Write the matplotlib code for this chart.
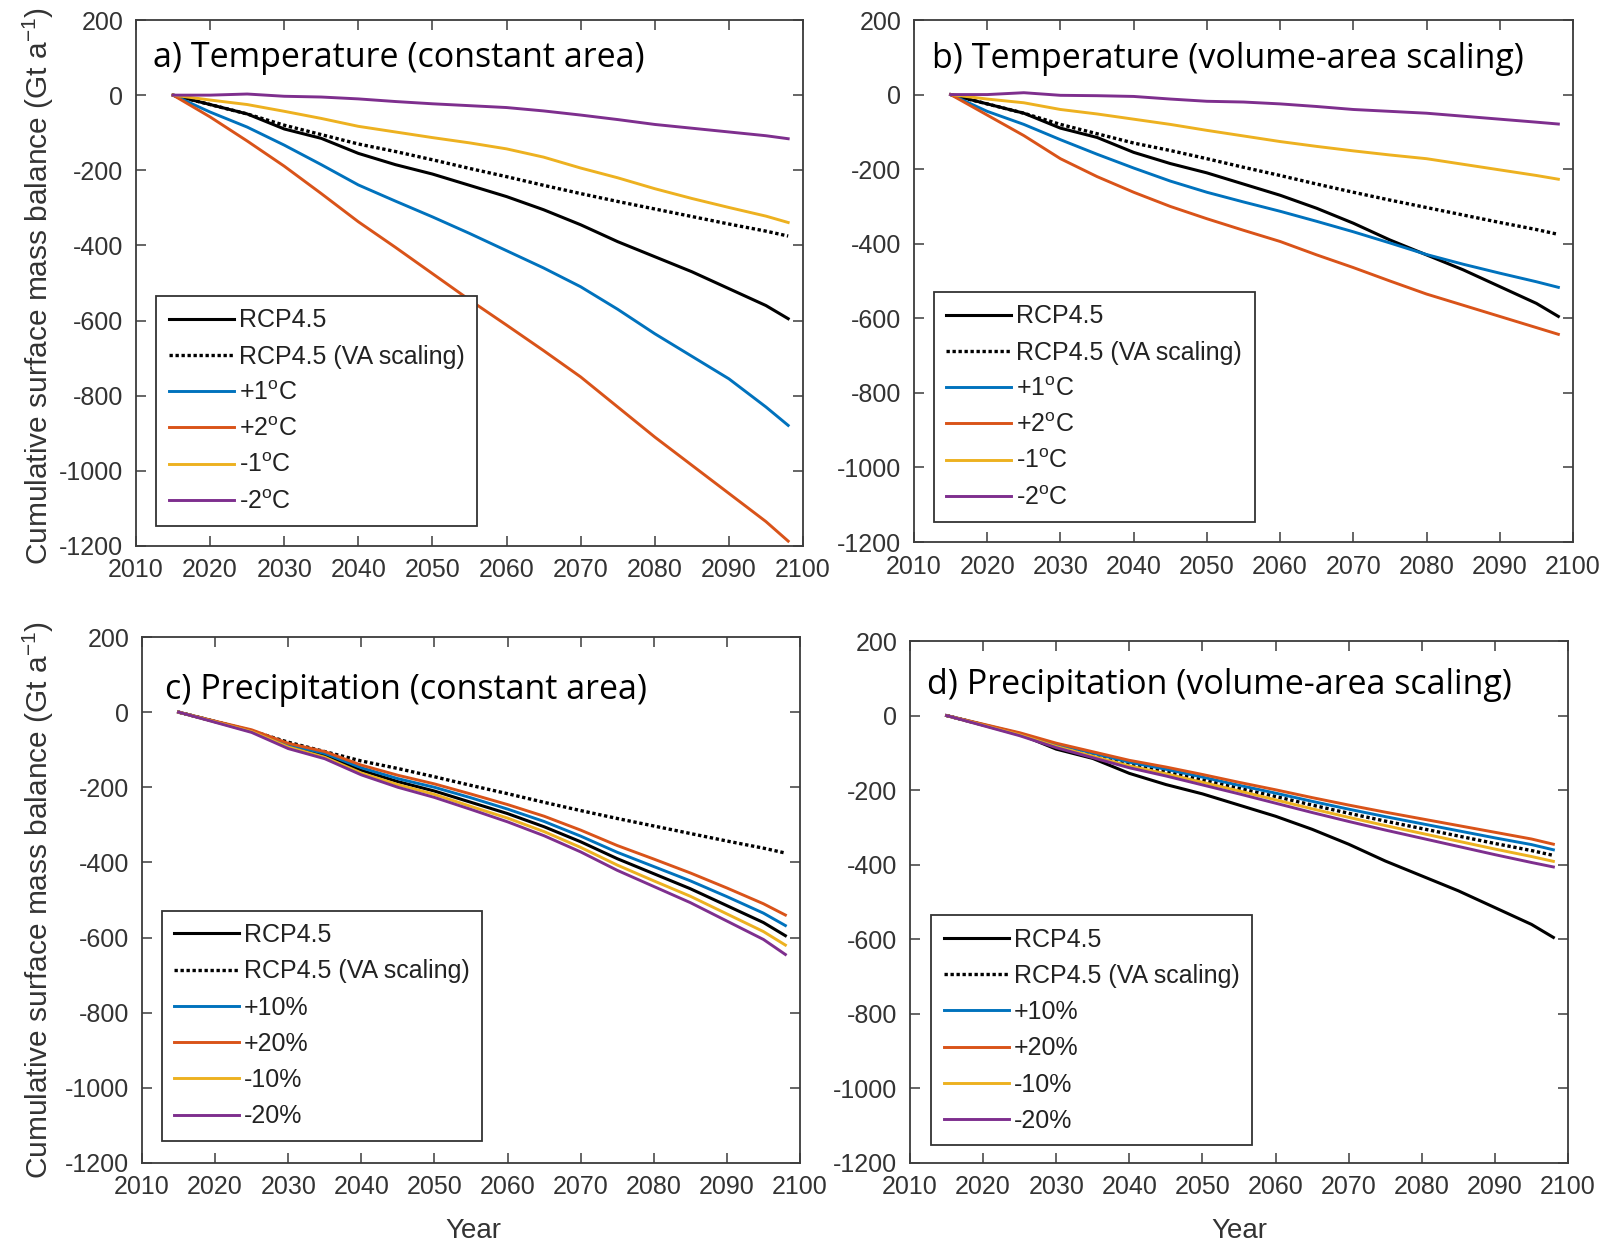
import matplotlib
matplotlib.use("Agg")
import matplotlib.pyplot as plt

W, H = 1603, 1244
DPI = 100

plt.rcParams["font.family"] = ["Liberation Sans", "DejaVu Sans"]
plt.rcParams["mathtext.fontset"] = "custom"
plt.rcParams["mathtext.rm"] = "Liberation Sans"
plt.rcParams["mathtext.it"] = "Liberation Sans:italic"
plt.rcParams["axes.unicode_minus"] = False

# ---- data (cumulative surface mass balance, Gt) ----
years = [2015, 2020, 2025, 2030, 2035, 2040, 2045, 2050, 2055, 2060,
         2065, 2070, 2075, 2080, 2085, 2090, 2095, 2098]

rcp45 = [0, -25, -50, -90, -115, -155, -185, -210, -240, -270,
         -305, -345, -390, -430, -470, -515, -560, -595]
rcp45_va = [0, -25, -50, -80, -105, -130, -150, -172, -195, -217,
            -240, -262, -283, -303, -323, -343, -362, -375]

# a) temperature, constant area
a_p1 = [0, -45, -85, -133, -185, -239, -282, -324, -368, -414,
        -460, -510, -570, -635, -695, -755, -830, -879]
a_p2 = [0, -58, -122, -189, -262, -337, -405, -475, -545, -612,
        -680, -750, -830, -910, -985, -1060, -1135, -1187]
a_m1 = [0, -13, -25, -43, -62, -83, -98, -113, -127, -143,
        -165, -194, -220, -249, -275, -299, -322, -339]
a_m2 = [0, 0, 3, -3, -5, -10, -17, -23, -28, -33,
        -42, -53, -65, -78, -88, -98, -108, -116]

# b) temperature, volume-area scaling
b_p1 = [0, -45, -80, -121, -160, -197, -232, -262, -288, -313,
        -340, -368, -398, -429, -455, -479, -502, -517]
b_p2 = [0, -55, -110, -172, -220, -262, -300, -333, -364, -394,
        -430, -464, -500, -535, -565, -595, -625, -643]
b_m1 = [0, -12, -22, -40, -52, -66, -80, -96, -111, -126,
        -139, -151, -162, -172, -187, -202, -217, -227]
b_m2 = [0, 0, 5, -2, -3, -5, -12, -18, -20, -25,
        -32, -40, -45, -50, -58, -66, -74, -79]

# c) precipitation, constant area
c_p10 = [0, -25, -49, -87, -110, -148, -177, -200, -228, -258,
         -291, -330, -373, -411, -449, -491, -535, -568]
c_p20 = [0, -24, -47, -83, -105, -141, -168, -191, -218, -246,
         -277, -314, -355, -391, -428, -468, -510, -540]
c_m10 = [0, -26, -52, -93, -120, -162, -193, -219, -251, -282,
         -318, -360, -407, -449, -490, -537, -584, -620]
c_m20 = [0, -27, -54, -97, -124, -167, -200, -227, -259, -292,
         -329, -372, -421, -464, -507, -556, -605, -645]

# d) precipitation, volume-area scaling
d_p10 = [0, -24, -48, -77, -101, -125, -144, -165, -187, -208,
         -230, -251, -271, -290, -309, -328, -346, -360]
d_p20 = [0, -23, -46, -74, -97, -120, -138, -158, -179, -199,
         -220, -240, -259, -277, -295, -313, -331, -345]
d_m10 = [0, -26, -52, -83, -109, -135, -156, -179, -202, -226,
         -250, -273, -295, -316, -337, -358, -378, -391]
d_m20 = [0, -27, -54, -86, -113, -140, -162, -186, -210, -235,
         -260, -284, -307, -329, -351, -373, -394, -406]

temp_labels = ["+1$^{\\rm o}$C", "+2$^{\\rm o}$C", "-1$^{\\rm o}$C", "-2$^{\\rm o}$C"]
prec_labels = ["+10%", "+20%", "-10%", "-20%"]

panel_titles = ["a) Temperature (constant area)",
                "b) Temperature (volume-area scaling)",
                "c) Precipitation (constant area)",
                "d) Precipitation (volume-area scaling)"]

xticks = list(range(2010, 2101, 10))
yticks = list(range(-1200, 201, 200))

colors = ["#0072BD", "#D95319", "#EDB120", "#7E2F8E"]

# ---- layout in pixels: (left, top, right, bottom) ----
boxes = [(136, 20, 803, 546), (914, 20, 1573, 542),
         (142, 637, 800, 1163), (910, 641, 1568, 1163)]
legend_anchor = [(0.030, 0.038), (0.030, 0.038), (0.030, 0.042), (0.032, 0.034)]
title_pos = [(153, 67), (932, 68), (165, 699), (927, 694)]

fig = plt.figure(figsize=(W / DPI, H / DPI), dpi=DPI)


def fx(x):
    return x / W


def fy(y):
    return 1 - y / H


series = [
    (a_p1, a_p2, a_m1, a_m2, temp_labels),
    (b_p1, b_p2, b_m1, b_m2, temp_labels),
    (c_p10, c_p20, c_m10, c_m20, prec_labels),
    (d_p10, d_p20, d_m10, d_m20, prec_labels),
]

spine_col = "#3c3c3c"
tick_col = "#333333"

for i, (box, (s1, s2, s3, s4, labs)) in enumerate(zip(boxes, series)):
    l, t, r, b = box
    ax = fig.add_axes([fx(l), fy(b), (r - l) / W, (b - t) / H])
    ax.plot(years, rcp45, color="black", lw=2.2, label="RCP4.5")
    ax.plot(years, rcp45_va, color="black", lw=2.4, ls=(0, (1, 0.8)),
            label="RCP4.5 (VA scaling)")
    for vals, c, lab in zip((s1, s2, s3, s4), colors, labs):
        ax.plot(years, vals, color=c, lw=2.1, label=lab)

    ax.set_xlim(2010, 2100)
    ax.set_ylim(-1200, 200)
    ax.set_xticks(xticks)
    ax.set_yticks(yticks)
    ax.tick_params(direction="in", length=7, width=1.1, color=spine_col,
                   labelsize=18, labelcolor=tick_col, top=True, right=True,
                   pad=9)
    for sp in ax.spines.values():
        sp.set_color(spine_col)
        sp.set_linewidth(1.3)

    leg = ax.legend(loc="lower left", bbox_to_anchor=legend_anchor[i],
                    borderaxespad=0, fontsize=18, handlelength=2.6,
                    handletextpad=0.2, labelspacing=0.49, borderpad=0.5,
                    fancybox=False, framealpha=1, edgecolor="#333333")
    leg.get_frame().set_linewidth(1.3)
    for txt in leg.get_texts():
        txt.set_color("#222222")

    tx, ty = title_pos[i]
    fig.text(fx(tx), fy(ty), panel_titles[i], fontsize=24.5,
             family=["Open Sans", "DejaVu Sans"], va="baseline", ha="left",
             color="black")

ylab = "Cumulative surface mass balance (Gt a$^{-1}$)"
fig.text(fx(38), fy(286), ylab, rotation=90, fontsize=21.5, ha="center",
         va="center", color="#333333")
fig.text(fx(38), fy(900), ylab, rotation=90, fontsize=21.5, ha="center",
         va="center", color="#333333")
fig.text(fx(473), fy(1231), "Year", fontsize=20, ha="center", va="center",
         color="#333333")
fig.text(fx(1239), fy(1231), "Year", fontsize=20, ha="center", va="center",
         color="#333333")

fig.savefig("out.png", dpi=DPI)
